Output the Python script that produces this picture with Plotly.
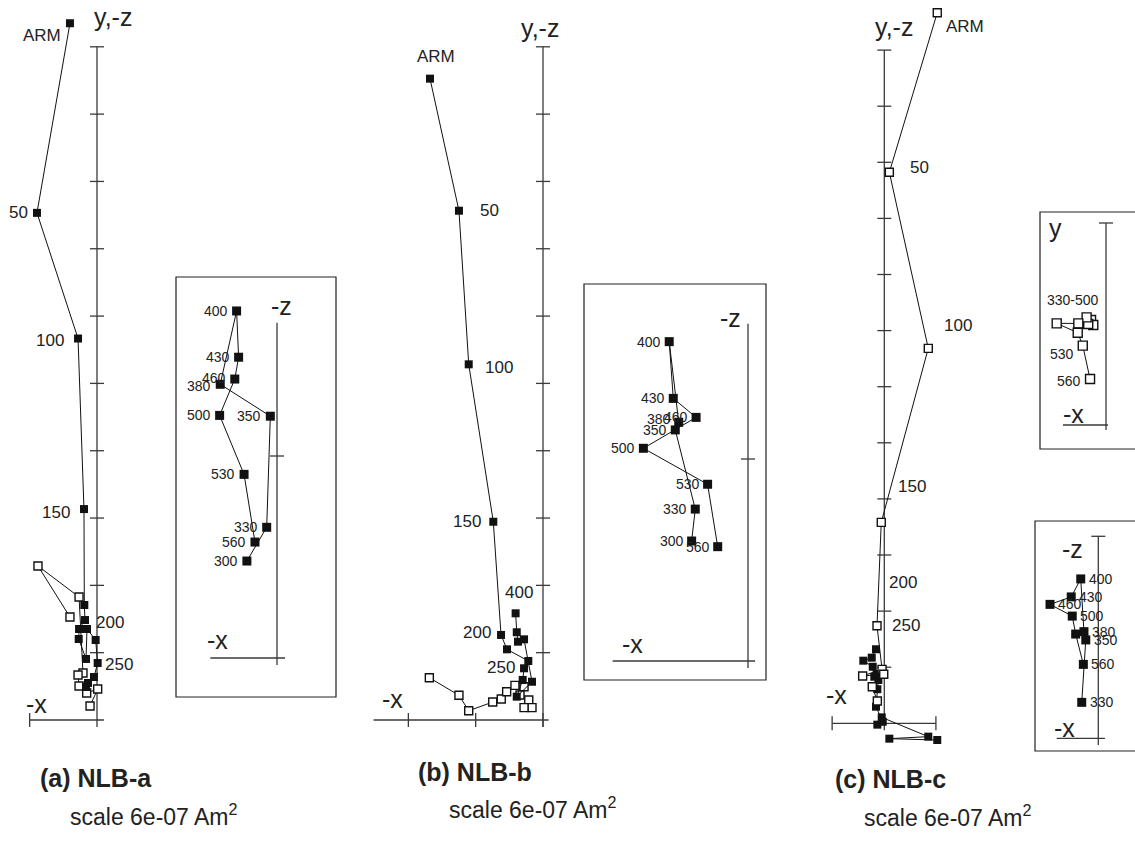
import plotly.graph_objects as go

W, H = 1135, 841
FONT = "Liberation Sans, Arial, sans-serif"

# ---------------- data (main diagrams: 1e-8 Am^2, insets: 1e-9 Am^2) ----------------
# NLB-a : solid = vertical (-z) projection, open = horizontal (y) projection
a_sol_x = [-2.41, -5.35, -1.69, -1.16, -1.13, -1.07, -1.60, -1.63, -0.98, -0.89, -0.12, 0.06, -0.27, -0.80, -0.98]
a_sol_z = [62.1, 45.2, 34.0, 18.8, 10.25, 8.91, 8.11, 7.22, 5.44, 8.11, 7.13, 5.08, 3.83, 3.30, 2.94]
a_opn_x = [-2.41, -5.26, -1.60, -1.25, -1.69, -1.60, -0.92, 0.06, -0.62]
a_opn_y = [9.18, 13.73, 10.96, 4.19, 4.01, 3.03, 2.41, 2.76, 1.25]
a_lab_idx = [0, 1, 2, 3, 5, 11]
a_lab_txt = ["ARM", "50", "100", "150", "200", "250"]

# NLB-b
b_sol_x = [-10.07, -7.49, -6.62, -4.43, -3.74, -3.21, -1.31, -1.69, -1.81, -2.34, -0.98, -1.69, -2.23, -2.34, -2.44]
b_sol_z = [57.16, 45.39, 31.70, 17.67, 7.58, 6.30, 5.26, 4.61, 3.57, 2.08, 3.41, 7.19, 6.98, 7.82, 9.51]
b_opn_x = [-10.13, -7.49, -6.62, -4.48, -3.72, -3.24, -2.50, -1.69, -2.05, -1.27, -0.98, -1.69]
b_opn_y = [3.77, 2.20, 0.83, 1.60, 1.87, 2.52, 3.09, 2.97, 2.23, 1.78, 1.10, 1.10]
b_lab_idx = [0, 1, 2, 3, 4, 7, 14]
b_lab_txt = ["ARM", "50", "100", "150", "200", "250", "400"]

# NLB-c : open = y projection (upper), solid = -z projection
c_opn_x = [4.72, 0.45, 3.92, -0.27, -0.65, -0.20, -1.93, -0.05, -1.07, -0.62]
c_opn_y = [63.33, 49.11, 33.42, 17.91, 8.70, 4.81, 4.22, 4.37, 3.26, 1.99]
c_sol_x = [4.72, 0.45, 3.92, -0.23, -0.62, -0.14, -0.74, -0.62, -0.53, -0.68, -0.89, -1.03, -1.87, -1.12, -0.74]
c_sol_z = [-1.49, -1.37, -1.19, 0.53, -0.12, 0.14, 1.48, 3.04, 3.86, 4.39, 4.15, 5.04, 5.58, 5.85, 6.60]
c_lab_idx = [0, 1, 2, 3, 4, 4]
c_lab_txt = ["ARM", "50", "100", "150", "200", "250"]

# insets (steps 300-560 C)
ia_T = ["300", "330", "350", "380", "400", "430", "460", "500", "530", "560"]
ia_x = [-1.49, -0.51, -0.33, -2.81, -2.00, -1.90, -2.09, -2.84, -1.63, -1.09]
ia_z = [4.80, 6.47, 11.97, 13.55, 17.18, 14.89, 13.81, 12.01, 9.09, 5.74]

ib_T = ["300", "330", "350", "380", "400", "430", "460", "500", "530", "560"]
ib_x = [-2.79, -2.61, -3.60, -3.43, -3.90, -3.70, -2.57, -5.18, -2.00, -1.50]
ib_z = [5.94, 7.52, 11.44, 11.82, 15.81, 13.00, 12.06, 10.53, 8.75, 5.66]

ic_T = ["330", "350", "380", "400", "430", "460", "500", "530", "560"]
ic1_x = [-0.74, -0.63, -0.88, -0.96, -1.37, -2.44, -1.40, -1.15, -0.79]
ic1_y = [5.20, 4.95, 5.00, 5.33, 5.03, 5.03, 4.57, 3.93, 2.28]
ic2_x = [-0.82, -0.62, -0.71, -0.87, -1.34, -2.39, -1.29, -1.12, -0.74]
ic2_z = [1.78, 4.87, 5.28, 7.89, 7.00, 6.63, 6.05, 5.16, 3.66]

titles = ["(a) NLB-a", "(b) NLB-b", "(c) NLB-c"]
scale_txt = "scale 6e-07 Am<sup>2</sup>"

# ---------------- layout frames: origin (px) and px per unit ----------------
frames = [
    ("a", 97.0, 720.0, 11.22),
    ("b", 543.0, 720.0, 11.22),
    ("c", 884.3, 723.3, 11.22),
    ("ia", 277.0, 658.0, 20.2),
    ("ib", 748.0, 661.0, 20.2),
    ("ic1", 1106.0, 425.0, 20.2),
    ("ic2", 1098.3, 738.3, 20.2),
]
ref = {}
fig = go.Figure()
lay = {}
for k, (name, ox, oy, s) in enumerate(frames, start=1):
    sfx = "" if k == 1 else str(k)
    lay["xaxis" + sfx] = dict(domain=[0, 1], range=[-ox / s, (W - ox) / s], visible=False,
                              fixedrange=True, anchor="y" + sfx)
    lay["yaxis" + sfx] = dict(domain=[0, 1], range=[(oy - H) / s, oy / s], visible=False,
                              fixedrange=True, anchor="x" + sfx)
    ref[name] = ("x" + sfx, "y" + sfx, s)

shapes = []
annots = []
AX_COL = "#3a3a3a"


def axes(name, v0, v1, h0, h1, vticks, hticks, half=7.0):
    xr, yr, s = ref[name]
    t = half / s
    common = dict(type="line", xref=xr, yref=yr, line=dict(color=AX_COL, width=1.3), layer="below")
    shapes.append(dict(x0=0, x1=0, y0=v0, y1=v1, **common))
    shapes.append(dict(x0=h0, x1=h1, y0=0, y1=0, **common))
    for v in vticks:
        shapes.append(dict(x0=-t, x1=t, y0=v, y1=v, **common))
    for h in hticks:
        shapes.append(dict(x0=h, x1=h, y0=-t, y1=t, **common))


axes("a", -0.62, 60, -6, 0.62, [6 * i for i in range(1, 11)], [-6])
axes("b", -0.62, 60, -15.1, 0.5, [6 * i for i in range(1, 11)], [-12, -6, 0])
axes("c", -0.62, 60, -4.65, 4.6, [5 * i for i in range(1, 13)], [-4.65, 4.6])
axes("ia", -0.35, 16.6, -3.3, 0.4, [10], [])
axes("ib", -0.35, 16.7, -6.7, 0.35, [10], [])
axes("ic1", -0.25, 10, -2.13, 0.1, [10], [])
axes("ic2", -0.33, 10, -2.06, 0.33, [10], [])


def series(name, xs, ys, solid, size=8):
    xr, yr, _ = ref[name]
    fig.add_trace(go.Scatter(
        x=xs, y=ys, xaxis=xr, yaxis=yr, mode="lines+markers", showlegend=False, hoverinfo="skip",
        line=dict(color="#111", width=1),
        marker=dict(symbol="square", size=size, color="#111" if solid else "white",
                    line=dict(color="#111", width=1.4 if not solid else 0)),
        cliponaxis=False))


series("a", a_opn_x, a_opn_y, False)
series("a", a_sol_x, a_sol_z, True)
series("b", b_opn_x, b_opn_y, False)
series("b", b_sol_x, b_sol_z, True)
series("c", c_sol_x, c_sol_z, True)
series("c", c_opn_x, c_opn_y, False)
series("ia", ia_x, ia_z, True, 9)
series("ib", ib_x, ib_z, True, 9)
series("ic1", ic1_x, ic1_y, False, 9)
series("ic2", ic2_x, ic2_z, True, 9)


def lab(name, x, y, text, xanchor, xshift, yshift, size):
    xr, yr, _ = ref[name]
    annots.append(dict(x=x, y=y, xref=xr, yref=yr, text=text, showarrow=False, xanchor=xanchor,
                       yanchor="middle", xshift=xshift, yshift=yshift,
                       font=dict(family=FONT, size=size, color="#222")))


# main point labels (offsets in px)
a_off = [("right", -7, -12), ("right", -7, 0), ("right", -12, -2), ("right", -12, -3), ("left", 9, -2), ("left", 5, -1)]
for i, t, (xa, dx, dy) in zip(a_lab_idx, a_lab_txt, a_off):
    lab("a", a_sol_x[i], a_sol_z[i], t, xa, dx, dy, 17)
b_off = [("center", 6, 22), ("left", 19, 0), ("left", 14, -3), ("right", -10, 0), ("right", -8, 2), ("right", -7, 1), ("center", 3, 21)]
for i, t, (xa, dx, dy) in zip(b_lab_idx, b_lab_txt, b_off):
    lab("b", b_sol_x[i], b_sol_z[i], t, xa, dx, dy, 17)
c_off = [("left", 7, -14), ("left", 19, 5), ("left", 14, 23), ("left", 15, 36), ("left", 10, 43), ("left", 13, 0)]
for i, t, (xa, dx, dy) in zip(c_lab_idx, c_lab_txt, c_off):
    lab("c", c_opn_x[i], c_opn_y[i], t, xa, dx, dy, 17)

# inset labels
ia_dy = [0, 0, 0, -2, 0, 0, 1, 0, 0, 0]
for x, y, t, dy in zip(ia_x, ia_z, ia_T, ia_dy):
    lab("ia", x, y, t, "right", -7, dy, 14)
ib_dy = [0, 0, 0, 3, 0, 0, 0, 0, 0, 0]
for x, y, t, dy in zip(ib_x, ib_z, ib_T, ib_dy):
    lab("ib", x, y, t, "right", -6, dy, 14)
for j in (7, 8):
    lab("ic1", ic1_x[j], ic1_y[j], ic_T[j], "right", -7, -8 if j == 7 else -2, 14)
for j in (0, 1, 2, 3, 4, 5, 6, 8):
    lab("ic2", ic2_x[j], ic2_z[j], ic_T[j], "left", 6, 0, 14)


def ptext(px, py, text, size, xanchor="center", bold=False):
    annots.append(dict(x=px / W, y=1 - py / H, xref="paper", yref="paper", text=("<b>%s</b>" % text) if bold else text,
                       showarrow=False, xanchor=xanchor, yanchor="middle",
                       font=dict(family=FONT, size=size, color="#222")))


# axis names
ptext(113, 17, "y,-z", 25)
ptext(36, 704, "-x", 25)
ptext(540, 28, "y,-z", 25)
ptext(392, 699, "-x", 25)
ptext(894, 27, "y,-z", 25)
ptext(836, 695, "-x", 25)
ptext(281, 306, "-z", 25)
ptext(217, 640, "-x", 25)
ptext(730, 318, "-z", 25)
ptext(632, 644, "-x", 25)
ptext(1055, 228, "y", 25)
ptext(1073, 414, "-x", 25)
ptext(1072, 549, "-z", 25)
ptext(1064, 728, "-x", 25)
ptext(1073, 300, "-".join([ic_T[0], ic_T[6]]), 14)

# titles
for (tx, ty, sx, sy), t in zip([(38, 778, 68, 815), (416, 772, 447, 808), (833, 779, 862, 816)], titles):
    ptext(tx, ty, t, 25, "left", bold=True)
    ptext(sx, sy, scale_txt, 23, "left")

# inset boxes (px)
for x0, y0, x1, y1 in [(176, 277, 336, 697), (584, 284, 766, 680), (1040, 212, 1145, 449), (1035, 521, 1145, 751)]:
    shapes.append(dict(type="rect", xref="paper", yref="paper", x0=x0 / W, x1=x1 / W, y0=1 - y1 / H, y1=1 - y0 / H,
                       line=dict(color="#222", width=1.2), fillcolor="rgba(0,0,0,0)", layer="below"))

fig.update_layout(width=W, height=H, margin=dict(l=0, r=0, t=0, b=0), paper_bgcolor="white",
                  plot_bgcolor="rgba(0,0,0,0)", shapes=shapes, annotations=annots, **lay)
fig.write_html("out.html", config={"displayModeBar": False})
